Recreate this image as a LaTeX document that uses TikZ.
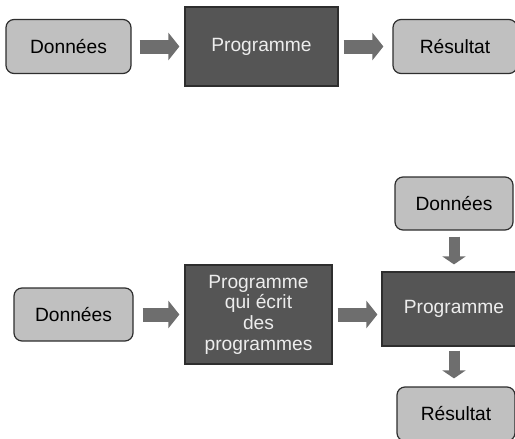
\documentclass[tikz,border=0pt]{standalone}
\usepackage{fontspec}
\setmainfont{Liberation Sans}
\usetikzlibrary{arrows.meta,positioning}

\definecolor{boxlight}{HTML}{C0C0C0}
\definecolor{boxdark}{HTML}{555555}
\definecolor{arrowgray}{HTML}{6E6E6E}
\definecolor{edgegray}{HTML}{2E2E2E}

\begin{document}
\begin{tikzpicture}[x=0.5pt,y=-0.5pt,
  databox/.style={draw=edgegray,line width=0.6pt,fill=boxlight,rounded corners=4pt,
    inner sep=0pt,font=\fontsize{9.6}{10.3}\selectfont},
  progbox/.style={draw=edgegray,line width=0.6pt,fill=boxdark,text=white!93!black,
    inner sep=0pt,align=center,font=\fontsize{9.6}{10.3}\selectfont},
  flowarrow/.style={draw=arrowgray,line width=7pt,-{Triangle[length=5.5pt,width=13.5pt]}},
  downarrow/.style={draw=arrowgray,line width=5.5pt,-{Triangle[length=4pt,width=11.5pt]}}]
\useasboundingbox (0,0) rectangle (515,439);
\clip (0,0) rectangle (515,439);
% simple chain
\node[databox,minimum width=62.5pt,minimum height=27pt] (donnees) at (68.5,46.5) {Données};
\node[progbox,minimum width=76.5pt,minimum height=39.5pt] (prog) at (261.5,46.5) {Programme};
\node[databox,minimum width=62pt,minimum height=27pt] (resultat) at (455,46.5) {Résultat};
\draw[flowarrow,shorten <=4pt,shorten >=2.5pt] (donnees) -- (prog);
\draw[flowarrow,shorten <=2.5pt,shorten >=4.5pt] (prog) -- (resultat);
% program that writes programs
\node[databox,minimum width=59.5pt,minimum height=26.5pt] (entree) at (73.5,314.5) {Données};
\node[progbox,minimum width=73.5pt,minimum height=49.5pt] (generateur) at (258.5,314.5)
  {Programme\\qui écrit\\des\\programmes};
\node[progbox,minimum width=72pt,minimum height=37pt] (genere) at (454,309) {Programme};
\node[databox,minimum width=59pt,minimum height=26.5pt] (donnees2) at (454,203.5) {Données};
\node[databox,minimum width=59pt,minimum height=27pt] (resultat2) at (456,414) {Résultat};
\draw[flowarrow,shorten <=4.5pt,shorten >=2.5pt] (entree) -- (generateur);
\draw[flowarrow,shorten <=2.5pt,shorten >=2pt] (generateur.east) -- (generateur.east -| genere.west);
\draw[downarrow,shorten <=3pt,shorten >=3.5pt] (donnees2.south) -- (genere.north);
\draw[downarrow,shorten <=2pt,shorten >=4pt] (genere.south) -- (genere.south |- resultat2.north);
\end{tikzpicture}
\end{document}
